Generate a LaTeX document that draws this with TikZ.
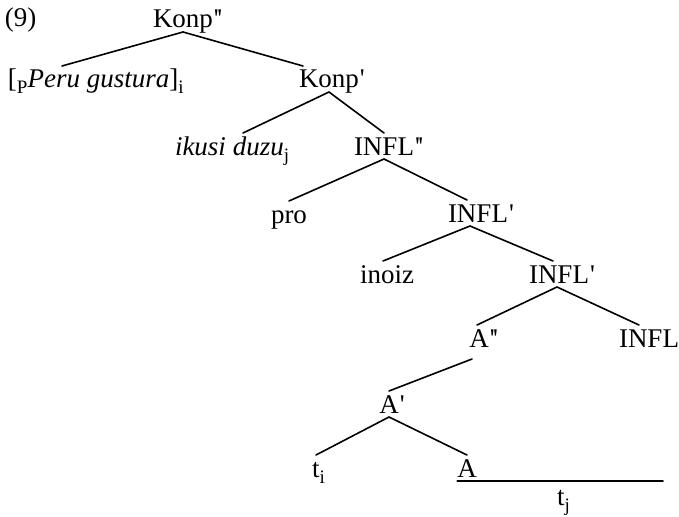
\documentclass[tikz,border=0pt]{standalone}
\usepackage{fontspec}
\setmainfont{Liberation Serif}
\newcommand\treefont{\fontsize{27}{31}\selectfont}
\newcommand\lsub[1]{\raisebox{-6pt}{\fontsize{19}{19}\selectfont #1}}
\newcommand\onebar{\rlap{\kern1pt\textquotesingle}}
\newcommand\twobar{\rlap{\kern1pt\textquotesingle\kern-1.5pt\textquotesingle}}
\tikzset{
  lbl/.style={inner sep=0pt, outer xsep=0pt, outer ysep=4pt,
    text height=18pt, text depth=0pt, anchor=base, font=\treefont},
  lblw/.style={lbl, anchor=base west},
  br/.style={line width=1.6pt, line cap=round},
}
\begin{document}
\begin{tikzpicture}[x=1pt, y=-1pt]
  \useasboundingbox (0,0) rectangle (679,516);

  % labels
  \node[lblw] (ex)     at (5,27)    {(9)};
  \node[lbl]  (konpdd) at (183,28)  {Konp\twobar};
  \node[lblw] (peru)   at (8,88)    {[\lsub{P}\textit{Peru gustura}]\lsub{i}};
  \node[lbl]  (konpd)  at (329,88)  {Konp\onebar};
  \node[lblw] (ikusi)  at (175,155) {\textit{ikusi duzu}\lsub{j}};
  \node[lbl]  (infldd) at (384,155) {INFL\twobar};
  \node[lbl]  (pro)    at (289,223) {pro};
  \node[lbl]  (infla)  at (478,222) {INFL\onebar};
  \node[lbl]  (inoiz)  at (387,283) {inoiz};
  \node[lbl]  (inflb)  at (559,283) {INFL\onebar};
  \node[lbl]  (add)    at (479,347) {A\twobar};
  \node[lbl]  (infl)   at (649,347) {INFL};
  \node[lbl]  (ad)     at (389,413) {A\onebar};
  \node[lblw] (ti)     at (312,477) {t\lsub{i}};
  \node[lbl]  (a)      at (467,477) {A};
  \node[lblw] (tj)     at (557,505) {t\lsub{j}};
  \coordinate (tjrule) at (663,482);

  % branches
  \draw[br] (konpdd.south) -- ([xshift=54pt]peru.north west);
  \draw[br] (konpdd.south) -- ([xshift=-26pt]konpd.north);
  \draw[br] (konpd.south) -- ([xshift=68pt]ikusi.north west);
  \draw[br] (konpd.south) -- (infldd.north);
  \draw[br] (infldd.south) -- (pro.north);
  \draw[br] (infldd.south) -- ([xshift=-11pt]infla.north);
  \draw[br] ([xshift=-8pt]infla.south) -- ([xshift=-4pt]inoiz.north);
  \draw[br] ([xshift=-8pt]infla.south) -- ([xshift=-6pt]inflb.north);
  \draw[br] ([xshift=-2pt]inflb.south) -- ([xshift=-2pt]add.north);
  \draw[br] ([xshift=-2pt]inflb.south) -- ([xshift=-10pt]infl.north);
  \draw[br] ([xshift=-7pt,yshift=-8pt]add.south) -- (ad.north);
  \draw[br] (ad.south) -- ([xshift=4pt]ti.north west);
  \draw[br] (ad.south) -- (a.north);
  \draw[br] (a.south west) -- (a.south west -| tjrule);
\end{tikzpicture}
\end{document}
